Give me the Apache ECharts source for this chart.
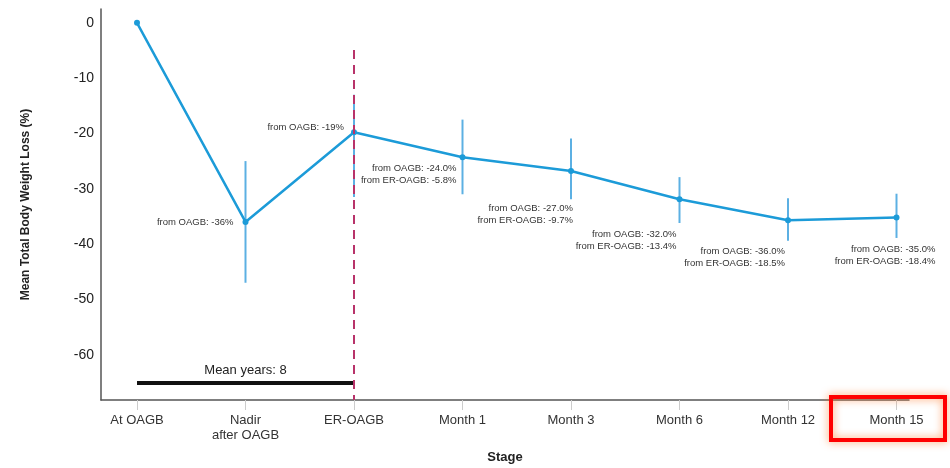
<!DOCTYPE html>
<html>
<head>
<meta charset="utf-8">
<script src="https://cdn.jsdelivr.net/npm/echarts@6/dist/echarts.min.js"></script>
<style>
    html, body { margin: 0; padding: 0; background: #fff; }
    #chart { width: 950px; height: 468px; }
</style>
</head>
<body>
<div id="chart"></div>
<script>
// stages on the x axis
var stages = ['At OAGB', 'Nadir\nafter OAGB', 'ER-OAGB', 'Month 1', 'Month 3', 'Month 6', 'Month 12', 'Month 15'];
// mean total body weight loss (%)
var meanLoss = [0, -36, -19.8, -24.3, -26.8, -31.9, -35.7, -35.2];
// error bar ends (low / high), null = no bar
var errLow = [null, -47, -31.5, -31, -31.9, -36.2, -39.4, -38.9];
var errHigh = [null, -25, -13, -17.5, -20.9, -27.9, -31.7, -30.9];
// text beside each point
var noteText = [
    '',
    'from OAGB: -36%',
    'from OAGB: -19%',
    'from OAGB: -24.0%\nfrom ER-OAGB: -5.8%',
    'from OAGB: -27.0%\nfrom ER-OAGB: -9.7%',
    'from OAGB: -32.0%\nfrom ER-OAGB: -13.4%',
    'from OAGB: -36.0%\nfrom ER-OAGB: -18.5%',
    'from OAGB: -35.0%\nfrom ER-OAGB: -18.4%'
];
// pixel offsets of the notes from their point (right edge, middle)
var noteOffset = [[0, 0], [-12, 0], [-10, -5], [-6, 17], [2, 43], [-3, 41], [-3, 37], [39, 38]];
var meanYearsText = 'Mean years: 8';
var meanYearsLevel = -65.1;
var erLineTop = -4.9;

var yMin = -68.2, yMax = 2.5;
var blue = '#1c9bd8';
var barBlue = '#5cb0e3';

var errData = [];
var noteData = [];
$each = function (arr, fn) { for (var i = 0; i < arr.length; i++) fn(i, arr[i]); };
$each(meanLoss, function (i, v) {
    if (errLow[i] != null) errData.push([i, errLow[i], errHigh[i]]);
    if (noteText[i] != '') noteData.push([i, v]);
});

var myChart = echarts.init(document.getElementById('chart'));
var option = {
    animation: false,
    textStyle: { fontFamily: 'Liberation Sans, Arial, sans-serif' },
    grid: [
        { left: 101, right: 41, top: 9, bottom: 68, outerBoundsMode: 'none' },
        { left: 137, right: 53.5, top: 9, bottom: 68, outerBoundsMode: 'none' }
    ],
    xAxis: [
        {
            gridIndex: 0, type: 'value', min: 0, max: 1,
            axisLine: { show: true, onZero: false, lineStyle: { color: '#555', width: 1.5 } },
            axisTick: { show: false }, axisLabel: { show: false }, splitLine: { show: false },
            name: 'Stage', nameLocation: 'middle', nameGap: 51,
            nameTextStyle: { fontSize: 13, fontWeight: 'bold', color: '#222' }
        },
        {
            gridIndex: 1, type: 'category', data: stages, boundaryGap: false,
            axisLine: { show: false, onZero: false },
            axisTick: { show: true, length: 10, lineStyle: { color: '#ccc', width: 1 } },
            axisLabel: { fontSize: 13, color: '#333', margin: 13, lineHeight: 15, interval: 0 },
            splitLine: { show: false }
        }
    ],
    yAxis: [
        {
            gridIndex: 0, type: 'value', min: yMin, max: yMax, splitNumber: 7,
            axisLine: { show: true, onZero: false, lineStyle: { color: '#555', width: 1.5 } },
            axisTick: { show: false }, splitLine: { show: false },
            axisLabel: { fontSize: 14, color: '#222', margin: 7, showMinLabel: false, showMaxLabel: false },
            name: 'Mean Total Body Weight Loss (%)', nameLocation: 'middle', nameGap: 69,
            nameTextStyle: { fontSize: 12, fontWeight: 'bold', color: '#222' }
        },
        { gridIndex: 1, type: 'value', min: yMin, max: yMax, show: false }
    ],
    series: [
        {
            name: 'error',
            type: 'custom',
            xAxisIndex: 1, yAxisIndex: 1,
            z: 2,
            data: errData,
            renderItem: function (params, api) {
                var a = api.coord([api.value(0), api.value(1)]);
                var b = api.coord([api.value(0), api.value(2)]);
                return {
                    type: 'line',
                    shape: { x1: a[0], y1: a[1], x2: b[0], y2: b[1] },
                    style: { stroke: barBlue, lineWidth: 2 }
                };
            }
        },
        {
            name: 'mean',
            type: 'line',
            xAxisIndex: 1, yAxisIndex: 1,
            z: 3,
            data: meanLoss,
            symbol: 'circle', symbolSize: 6,
            itemStyle: { color: blue },
            lineStyle: { color: blue, width: 2.5 },
            markLine: {
                silent: true,
                symbol: 'none',
                data: [
                    [
                        { coord: [0, meanYearsLevel], lineStyle: { color: '#111', width: 4, type: 'solid' },
                          label: { show: true, position: 'middle', formatter: meanYearsText, fontSize: 13, color: '#222', distance: 6 } },
                        { coord: [2, meanYearsLevel] }
                    ],
                    [
                        { coord: [2, erLineTop], lineStyle: { color: '#b8336a', width: 2, type: [9, 6] }, label: { show: false } },
                        { coord: [2, yMin] }
                    ]
                ]
            }
        },
        {
            name: 'notes',
            type: 'custom',
            xAxisIndex: 1, yAxisIndex: 1,
            z: 4,
            data: noteData,
            renderItem: function (params, api) {
                var i = api.value(0);
                var p = api.coord([i, api.value(1)]);
                var off = noteOffset[i];
                return {
                    type: 'text',
                    x: p[0] + off[0], y: p[1] + off[1],
                    style: {
                        text: noteText[i],
                        fill: '#333',
                        font: '9.5px Liberation Sans, Arial, sans-serif',
                        align: 'right',
                        verticalAlign: 'middle',
                        lineHeight: 12
                    }
                };
            }
        }
    ],
    graphic: [
        {
            type: 'rect',
            shape: { x: 831, y: 397, width: 114, height: 43 },
            style: { fill: 'none', stroke: '#ff0000', lineWidth: 4, shadowBlur: 8, shadowColor: 'rgba(255,120,40,0.8)' },
            z: 10
        }
    ]
};
myChart.setOption(option);
</script>
</body>
</html>
